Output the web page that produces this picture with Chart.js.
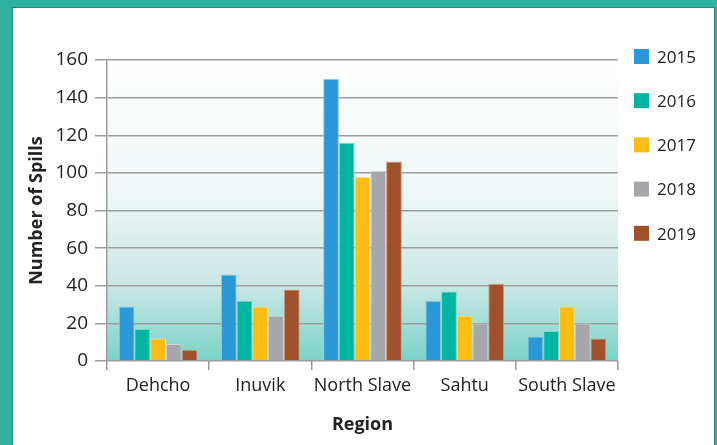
<!DOCTYPE html>
<html>
<head>
<meta charset="utf-8">
<script src="https://cdn.jsdelivr.net/npm/chart.js@4"></script>
<style>
  html, body { margin: 0; padding: 0; width: 717px; height: 445px; overflow: hidden; background: #2eb1a1; }
  .panel { position: absolute; left: 12px; top: 7px; width: 701px; height: 450px; background: #fff; border: 1px solid #1d8a7d; }
  canvas { position: absolute; left: 0; top: 0; }
</style>
</head>
<body>
<div class="panel"></div>
<canvas id="spills" width="717" height="445"></canvas>
<script>
const regions = ["Dehcho", "Inuvik", "North Slave", "Sahtu", "South Slave"];
const years = ["2015", "2016", "2017", "2018", "2019"];
const spills2015 = [29, 46, 150, 32, 13];
const spills2016 = [17, 32, 116, 37, 16];
const spills2017 = [12, 29, 98, 24, 29];
const spills2018 = [9, 24, 101, 20, 20];
const spills2019 = [6, 38, 106, 41, 12];
const yTicks = [0, 20, 40, 60, 80, 100, 120, 140, 160];

const colors = ["#2a98d6", "#00b4a2", "#fdbd13", "#a6a7aa", "#a0502a"];
const edges = ["#8fcbec", "#7fd9cf", "#fee08a", "#d3d3d5", "#cf9a80"];
const series = [spills2015, spills2016, spills2017, spills2018, spills2019];

const FONT = "'Open Sans', sans-serif";

// plot background: white fading to teal at the bottom
const plotBg = {
  id: "plotBg",
  beforeDraw(chart) {
    const { ctx, chartArea: a } = chart;
    const g = ctx.createLinearGradient(0, a.top, 0, a.bottom);
    g.addColorStop(0, "#ffffff");
    g.addColorStop(0.45, "#eef6f5");
    g.addColorStop(0.75, "#c9e7e4");
    g.addColorStop(1, "#7ad3c8");
    ctx.save();
    ctx.fillStyle = g;
    ctx.fillRect(a.left, a.top, a.right - a.left, a.bottom - a.top);
    ctx.restore();
  }
};

// legend on the right, one row per year
const sideLegend = {
  id: "sideLegend",
  afterDraw(chart) {
    const { ctx } = chart;
    ctx.save();
    ctx.font = "17px " + FONT;
    ctx.textBaseline = "middle";
    chart.data.datasets.forEach((ds, i) => {
      const y = 57 + i * 44.2;
      ctx.fillStyle = ds.backgroundColor;
      ctx.fillRect(634, y - 8, 15, 15);
      ctx.fillStyle = "#222";
      ctx.fillText(ds.label, 657, y + 1);
    });
    ctx.restore();
  }
};

new Chart(document.getElementById("spills").getContext("2d"), {
  type: "bar",
  data: {
    labels: regions,
    datasets: years.map((yr, i) => ({
      label: yr,
      data: series[i],
      backgroundColor: colors[i],
      borderColor: edges[i],
      borderWidth: 1,
      categoryPercentage: 0.77,
      barPercentage: 1.0,
    })),
  },
  options: {
    responsive: false,
    animation: false,
    devicePixelRatio: 1,
    layout: { padding: { left: 0, top: 60, right: 99, bottom: 0 } },
    plugins: { legend: { display: false }, tooltip: { enabled: false } },
    scales: {
      x: {
        afterFit: s => { s.height = 84; },
        grid: { offset: true, drawOnChartArea: false, tickLength: 9, color: "#9a9a9a", lineWidth: 1.5 },
        border: { display: false },
        ticks: { color: "#222", font: { family: FONT, size: 18 }, padding: 5, maxRotation: 0, minRotation: 0, autoSkip: false },
        title: { display: true, text: "Region", color: "#222", font: { family: FONT, size: 18, weight: "bold" }, padding: { top: 0, bottom: 9 } },
      },
      y: {
        min: 0,
        max: 160,
        afterFit: s => { s.width = 107; },
        afterBuildTicks: s => { s.ticks = yTicks.map(v => ({ value: v })); },
        grid: { color: "#9d9d9d", lineWidth: 1.5, tickLength: 12 },
        border: { color: "#9d9d9d", width: 1.5 },
        ticks: { color: "#222", font: { family: FONT, size: 19 }, padding: 7 },
        title: { display: true, text: "Number of Spills", color: "#222", font: { family: FONT, size: 18, weight: "bold" }, padding: { top: 26, bottom: 0 } },
      },
    },
  },
  plugins: [plotBg, sideLegend],
});
</script>
</body>
</html>
